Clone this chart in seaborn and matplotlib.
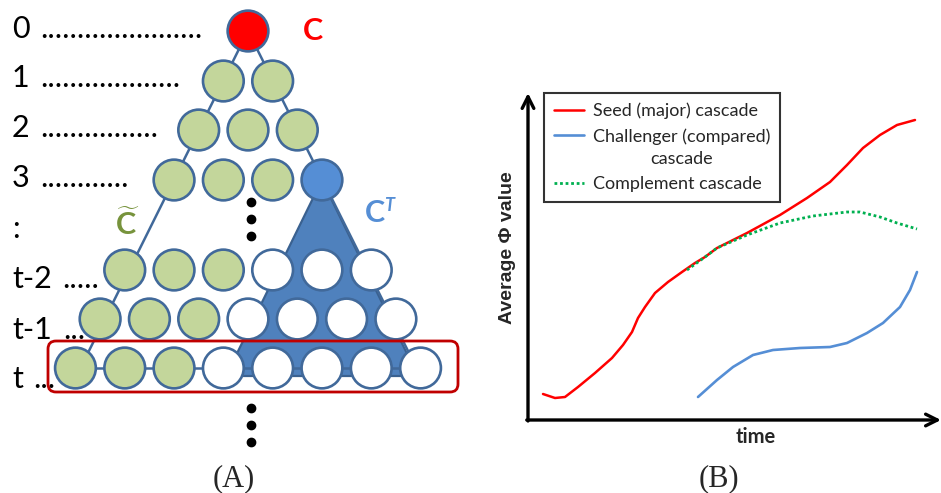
import numpy as np
import pandas as pd
import matplotlib
matplotlib.use("Agg")
import matplotlib.pyplot as plt
import seaborn as sns
from matplotlib.patches import FancyBboxPatch, Polygon
from matplotlib.lines import Line2D

sns.set_theme(style="white")
plt.rcParams['font.family'] = ['Lato', 'DejaVu Sans']
plt.rcParams['mathtext.fontset'] = 'custom'
plt.rcParams['mathtext.bf'] = 'Lato:bold'
plt.rcParams['mathtext.rm'] = 'Lato'
plt.rcParams['mathtext.it'] = 'Lato:italic'

# ---------------- data: panel A (cascade tree) ----------------
level_labels = ["0", "1", "2", "3", ":", "t-2", "t-1", "t"]
level_dots = [22, 19, 16, 12, 0, 5, 3, 3]
row_states = [
    ["seed"],
    ["complement"] * 2,
    ["complement"] * 3,
    ["complement"] * 3 + ["challenger"],
    ["complement"] * 3 + ["other"] * 3,
    ["complement"] * 3 + ["other"] * 4,
    ["complement"] * 3 + ["other"] * 5,
]

# ---------------- data: panel B (average phi over time) ----------------
seed_time = [15, 27, 37, 50, 67, 84, 95, 104, 110, 117, 127, 140, 154, 167, 177, 189,
             219, 252, 279, 302, 319, 335, 352, 369, 387]
seed_phi = [26, 22, 23, 33, 47, 62, 75, 88, 102, 113, 127, 138, 148, 157, 163, 172,
            187, 205, 222, 238, 255, 272, 285, 295, 300]
challenger_time = [170, 189, 205, 225, 245, 272, 302, 319, 339, 355, 372, 382, 389]
challenger_phi = [23, 40, 53, 65, 70, 72, 73, 77, 87, 97, 113, 130, 148]
complement_time = [159, 177, 189, 219, 252, 285, 319, 332, 352, 369, 389]
complement_phi = [150, 163, 172, 185, 197, 204, 208, 208, 203, 197, 191]
legend_labels = ["Seed (major) cascade", "Challenger (compared)\ncascade", "Complement cascade"]

# ---------------- styling / layout ----------------
W, H = 941, 493
fig = plt.figure(figsize=(W / 100, H / 100), dpi=100)
ax = fig.add_axes([0, 0, 1, 1])

edge_blue = "#41699A"
palette = {"seed": "#FF0000", "complement": "#C3D69B", "challenger": "#558ED5", "other": "#FFFFFF"}
cx, dx = 248, 49.3
row_y = [31, 81, 130, 180, 270, 319, 368]

recs = []
for r, states in enumerate(row_states):
    n = len(states)
    for j, s in enumerate(states):
        recs.append({"x": cx + (j - (n - 1) / 2) * dx, "y": row_y[r], "state": s, "row": r})
nodes = pd.DataFrame(recs)

root = nodes[nodes.row == 0].iloc[0]
last = nodes[nodes.row == len(row_states) - 1]
left_end = last.iloc[0]
right_end = last.iloc[-1]
chal = nodes[nodes.state == "challenger"].iloc[0]

# blue triangle (challenger's sub-cascade)
slope = 0.49
base_y = right_end.y + 8
tri = Polygon([(chal.x, chal.y), (chal.x - slope * (base_y - chal.y), base_y),
               (chal.x + slope * (base_y - chal.y), base_y)], closed=True,
              facecolor="#4F81BD", edgecolor="#3A6190", lw=1.6, zorder=1)
ax.add_patch(tri)

# outline of the whole cascade triangle
ax.plot([root.x, left_end.x + 5], [root.y, left_end.y], color=edge_blue, lw=1.8, zorder=1.5)
ax.plot([root.x, right_end.x - 4], [root.y, right_end.y], color=edge_blue, lw=1.8, zorder=1.5)
ax.plot([left_end.x, right_end.x], [left_end.y, right_end.y], color=edge_blue, lw=1.8, zorder=1.5)

sns.scatterplot(data=nodes, x="x", y="y", hue="state", palette=palette, s=860,
                edgecolor=edge_blue, linewidth=1.9, legend=False, ax=ax, zorder=3)
ax.set_xlim(0, W)
ax.set_ylim(H, 0)
ax.axis("off")

# level labels and dotted leaders
label_base = [38, 87, 137, 187, 238, 288, 339, 388]
dot_x = [40, 40, 40, 40, 40, 62, 63, 33]
for lab, nd, yb, xd in zip(level_labels, level_dots, label_base, dot_x):
    ax.text(12, yb, lab, fontsize=22, color="black", va="baseline", ha="left", zorder=0.5)
    if nd:
        ax.text(xd, yb, "." * nd, fontsize=22, color="black", va="baseline", ha="left", zorder=0.5)

# vertical ellipses
ell_y = np.array([0, 17, 34])
ax.scatter(np.full(3, cx + 3), row_y[3] + 22 + ell_y, s=36, color="black", zorder=2)
ax.scatter(np.full(3, cx + 3), row_y[-1] + 40 + ell_y, s=36, color="black", zorder=2)

# highlighted level t
rect = FancyBboxPatch((48, 341), 410, 51, boxstyle="round,pad=0,rounding_size=8",
                      facecolor="none", edgecolor="#C00000", lw=2.0, zorder=5)
ax.add_patch(rect)

# symbols
ax.text(313, 40, "C", fontsize=22, fontweight="bold", color="#FF0000", ha="center", va="baseline")
ax.text(127, 235, r"$\mathbf{\widetilde{C}}$", fontsize=22, color="#77933C",
        ha="center", va="baseline")
ax.text(375, 222, "C", fontsize=22, fontweight="bold", color="#558ED5", ha="center", va="baseline")
ax.text(389, 211, "T", fontsize=13, fontweight="bold", fontstyle="italic", color="#558ED5",
        ha="center", va="baseline")

ax.text(234, 486, "(A)", fontsize=22, family=["Liberation Serif"], ha="center", va="baseline")
ax.text(719, 486, "(B)", fontsize=22, family=["Liberation Serif"], ha="center", va="baseline")

# ---------------- panel B ----------------
axB = fig.add_axes([528 / W, (H - 420) / H, 413 / W, 327 / H])
sns.lineplot(x=seed_time, y=seed_phi, ax=axB, color="#FF0000", lw=1.8, sort=False, estimator=None)
sns.lineplot(x=challenger_time, y=challenger_phi, ax=axB, color="#558ED5", lw=1.9, sort=False,
             estimator=None)
sns.lineplot(x=complement_time, y=complement_phi, ax=axB, color="#00B050", lw=2.0,
             linestyle=(0, (1, 1)), sort=False, estimator=None)
axB.set_xlim(0, 413)
axB.set_ylim(0, 327)
axB.set_xticks([])
axB.set_yticks([])
for sp in axB.spines.values():
    sp.set_visible(False)
axB.patch.set_alpha(0)
axB.set_xlabel("")
axB.set_ylabel("")

arrow_kw = dict(arrowstyle="->,head_length=0.7,head_width=0.35", lw=2.4, color="black",
                shrinkA=0, shrinkB=0)
axB.annotate("", xy=(0, 1.0), xytext=(0, -0.003), xycoords="axes fraction",
             arrowprops=arrow_kw, annotation_clip=False)
axB.annotate("", xy=(1.0, 0), xytext=(-0.003, 0), xycoords="axes fraction",
             arrowprops=arrow_kw, annotation_clip=False)

fig.text(507 / W, 1 - 248 / H, "Average Φ value", rotation=90, fontsize=14, fontweight="bold",
         family=["Liberation Sans"], ha="center", va="center")
fig.text(756 / W, 1 - 437 / H, "time", fontsize=14.5, fontweight="bold", ha="center", va="center")

handles = [Line2D([], [], color="#FF0000", lw=1.8),
           Line2D([], [], color="#558ED5", lw=1.9),
           Line2D([], [], color="#00B050", lw=2.0, linestyle=(0, (1, 1)))]
LS = 1.45
leg = axB.legend(handles, legend_labels, loc="upper left",
                 bbox_to_anchor=(544 / W, 1 - 93 / H), bbox_transform=fig.transFigure,
                 frameon=True, fancybox=False, edgecolor="black", fontsize=13,
                 handlelength=1.65, handletextpad=0.5, borderpad=0.55, labelspacing=0.5,
                 borderaxespad=0)
leg.get_frame().set_linewidth(1.5)
leg.get_frame().set_facecolor("white")
for t in leg.get_texts():
    t.set_multialignment("center")
    t.set_linespacing(LS)
# align the multi-line entry's handle with its first line
h2 = leg.legend_handles[1]
h2.set_ydata(np.asarray(h2.get_ydata()) + 13 * LS / 2)

fig.savefig("out.png", dpi=100)
